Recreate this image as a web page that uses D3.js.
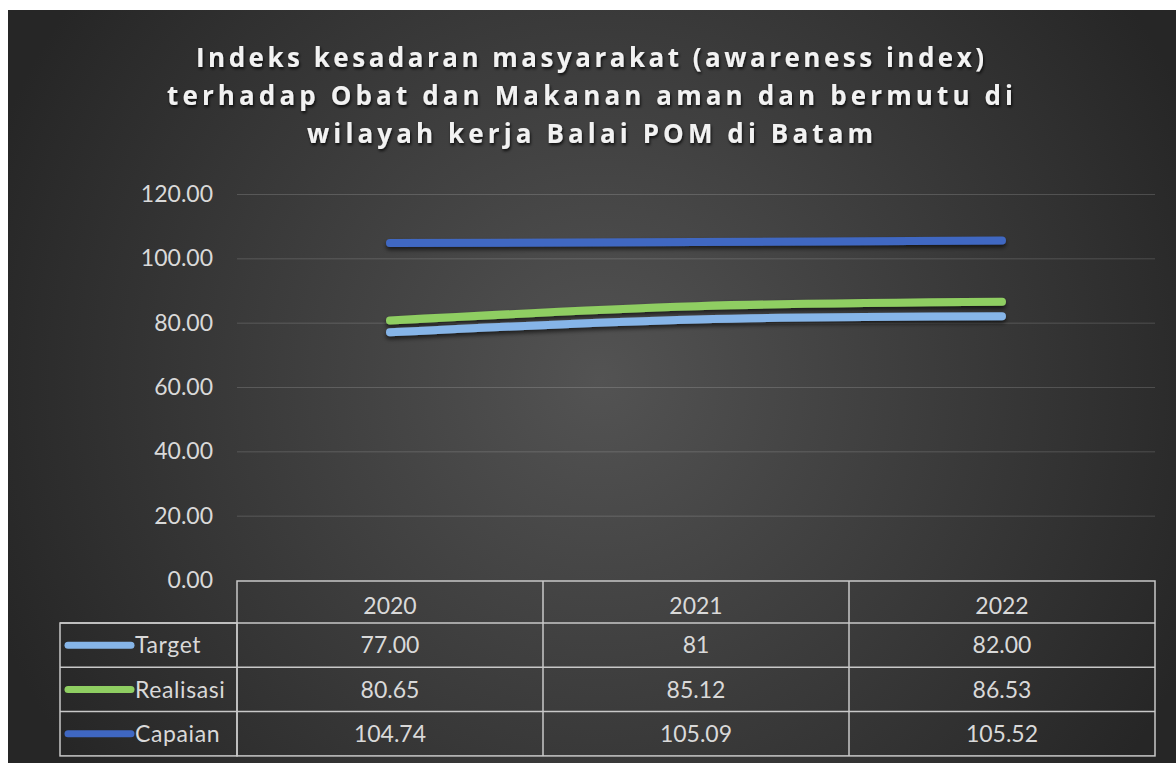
<!DOCTYPE html>
<html>
<head>
<meta charset="utf-8">
<script src="https://cdn.jsdelivr.net/npm/d3@7"></script>
<style>
  body { margin: 0; background: #fff; }
  text { font-family: Lato, "Open Sans", sans-serif; }
</style>
</head>
<body>
<div id="chart"></div>
<script>
var width = 1176
var height = 763

// data
var years = ["2020", "2021", "2022"]
var seriesNames = ["Target", "Realisasi", "Capaian"]
var target = ["77.00", "81", "82.00"]
var realisasi = ["80.65", "85.12", "86.53"]
var capaian = ["104.74", "105.09", "105.52"]
var yTicks = [0, 20, 40, 60, 80, 100, 120]
var titleLines = [
  "Indeks kesadaran masyarakat (awareness index)",
  "terhadap Obat dan Makanan aman dan bermutu di",
  "wilayah kerja Balai POM di Batam"
]
var titleWidths = [788, 846, 566]

var colors = ["#86b5e8", "#8fce62", "#3f67c2"]
var series = [target, realisasi, capaian].map(function (vals, i) {
  return { name: seriesNames[i], color: colors[i], text: vals,
           values: vals.map(function (v, j) { return { year: years[j], v: +v } }) }
})

var plotLeft = 237, plotRight = 1155
var x = d3.scaleBand().domain(years).range([plotLeft, plotRight])
var y = d3.scaleLinear().domain([0, 120]).range([580, 194])

var svg = d3.select("#chart").append("svg")
  .attr("width", width)
  .attr("height", height)

var defs = svg.append("defs")
var grad = defs.append("radialGradient")
  .attr("id", "bg")
  .attr("gradientUnits", "userSpaceOnUse")
  .attr("cx", 600).attr("cy", 380).attr("r", 650)
grad.append("stop").attr("offset", 0).attr("stop-color", "#535353")
grad.append("stop").attr("offset", 1).attr("stop-color", "#262626")

var shadow = defs.append("filter").attr("id", "shadow")
  .attr("x", "-10%").attr("y", "-50%").attr("width", "120%").attr("height", "200%")
shadow.append("feDropShadow")
  .attr("dx", 0).attr("dy", 3).attr("stdDeviation", 2)
  .attr("flood-color", "#000").attr("flood-opacity", 0.6)

var tshadow = defs.append("filter").attr("id", "tshadow")
tshadow.append("feDropShadow")
  .attr("dx", 1).attr("dy", 2).attr("stdDeviation", 1.5)
  .attr("flood-color", "#000").attr("flood-opacity", 0.8)

svg.append("rect")
  .attr("x", 8).attr("y", 10)
  .attr("width", width - 8).attr("height", height - 10)
  .attr("fill", "url(#bg)")

// title
svg.append("g")
  .attr("filter", "url(#tshadow)")
  .selectAll("text")
  .data(titleLines)
  .enter().append("text")
  .attr("x", 590)
  .attr("y", function (d, i) { return 67 + i * 38 })
  .attr("text-anchor", "middle")
  .attr("fill", "#f2f2f2")
  .style("font-size", "26px")
  .style("font-family", "'Open Sans', sans-serif")
  .style("font-weight", "bold")
  .attr("textLength", function (d, i) { return titleWidths[i] })
  .attr("lengthAdjust", "spacing")
  .text(function (d) { return d })

// y axis + gridlines
var yAxis = svg.append("g")
  .attr("transform", "translate(" + plotLeft + ",0)")
  .call(d3.axisLeft(y)
    .tickValues(yTicks)
    .tickSize(-(plotRight - plotLeft))
    .tickPadding(24)
    .tickFormat(d3.format(".2f")))
yAxis.select(".domain").remove()
yAxis.selectAll(".tick line")
  .attr("stroke", "#ffffff")
  .attr("stroke-opacity", function (d) { return d === 0 ? 0 : 0.16 })
yAxis.selectAll(".tick text")
  .attr("fill", "#d9d9d9")
  .attr("font-size", 23)

// lines
var line = d3.line()
  .x(function (d) { return x(d.year) + x.bandwidth() / 2 })
  .y(function (d) { return y(d.v) })
  .curve(d3.curveCatmullRom)

svg.append("g")
  .attr("filter", "url(#shadow)")
  .selectAll("path")
  .data(series)
  .enter().append("path")
  .attr("d", function (d) { return line(d.values) })
  .attr("fill", "none")
  .attr("stroke", function (d) { return d.color })
  .attr("stroke-width", 8)
  .attr("stroke-linecap", "round")

// data table
var rowTop = 581, headH = 42, rowH = 44.3
var legendLeft = 60
var tableColor = "#c8c8c8"
var table = svg.append("g")
  .attr("fill", "none")
  .attr("stroke", tableColor)
  .attr("stroke-width", 1.5)

table.append("rect")
  .attr("x", plotLeft).attr("y", rowTop)
  .attr("width", plotRight - plotLeft).attr("height", headH + rowH * 3)
table.append("rect")
  .attr("x", legendLeft).attr("y", rowTop + headH)
  .attr("width", plotLeft - legendLeft).attr("height", rowH * 3)
table.selectAll(".hline")
  .data([0, 1, 2])
  .enter().append("line")
  .attr("x1", legendLeft).attr("x2", plotRight)
  .attr("y1", function (d) { return rowTop + headH + d * rowH })
  .attr("y2", function (d) { return rowTop + headH + d * rowH })
table.selectAll(".vline")
  .data(years.slice(1))
  .enter().append("line")
  .attr("x1", function (d) { return x(d) }).attr("x2", function (d) { return x(d) })
  .attr("y1", rowTop).attr("y2", rowTop + headH + rowH * 3)

svg.append("g").selectAll("text")
  .data(years)
  .enter().append("text")
  .attr("x", function (d) { return x(d) + x.bandwidth() / 2 })
  .attr("y", rowTop + headH / 2 + 4)
  .attr("dy", "0.35em")
  .attr("text-anchor", "middle")
  .attr("fill", "#d9d9d9")
  .attr("font-size", 23)
  .text(function (d) { return d })

var rows = svg.append("g").selectAll("g")
  .data(series)
  .enter().append("g")
  .attr("transform", function (d, i) { return "translate(0," + (rowTop + headH + i * rowH + rowH / 2) + ")" })

rows.append("line")
  .attr("x1", 68).attr("x2", 131)
  .attr("stroke", function (d) { return d.color })
  .attr("stroke-width", 7)
  .attr("stroke-linecap", "round")

rows.append("text")
  .attr("x", 135)
  .attr("dy", "0.35em")
  .attr("fill", "#d9d9d9")
  .attr("font-size", 23)
  .attr("letter-spacing", 0.6)
  .text(function (d) { return d.name })

rows.selectAll(".val")
  .data(function (d) { return d.text.map(function (t, j) { return { t: t, year: years[j] } }) })
  .enter().append("text")
  .attr("x", function (d) { return x(d.year) + x.bandwidth() / 2 })
  .attr("dy", "0.35em")
  .attr("text-anchor", "middle")
  .attr("fill", "#d9d9d9")
  .attr("font-size", 23)
  .text(function (d) { return d.t })
</script>
</body>
</html>
